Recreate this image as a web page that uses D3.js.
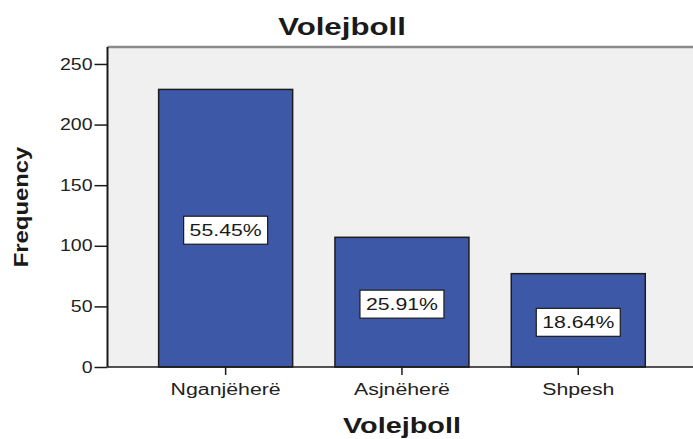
<!DOCTYPE html>
<meta charset="utf-8">
<style>
body { margin: 0; background: #fff; }
text { font-family: "Liberation Sans", Arial, sans-serif; fill: #1a1a1a; }
.bar { fill: #3e58a8; stroke: #1c1c1c; stroke-width: 1.5px; }
.lbox { fill: #fff; stroke: #1c1c1c; stroke-width: 1.2px; }
.axis path { display: none; }
.axis line { stroke: #1a1a1a; stroke-width: 1.5px; }
</style>
<body>
<script src="https://d3js.org/d3.v7.min.js"></script>
<script>

// data
var categories = ["Nganjëherë", "Asjnëherë", "Shpesh"];
var frequencies = [229, 107, 77];
var percentLabels = ["55.45%", "25.91%", "18.64%"];
var yTicks = [0, 50, 100, 150, 200, 250];

var W = 693, H = 439;
var plot = {left: 107.5, right: 696.4, top: 47, bottom: 367};

var svg = d3.select("body").append("svg")
    .attr("width", W)
    .attr("height", H);

var x = d3.scaleBand()
    .domain(categories)
    .range([plot.left, plot.right])
    .paddingInner(0.24)
    .paddingOuter(0.29);

var y = d3.scaleLinear()
    .domain([0, 264])
    .range([plot.bottom, plot.top]);

// stretch text horizontally (the source image is wider than its fonts)
function stretch(sel, k) {
  sel.each(function() {
    var w = this.getComputedTextLength();
    d3.select(this).attr("textLength", w * k).attr("lengthAdjust", "spacingAndGlyphs");
  });
}

// plot background + frame
svg.append("rect")
    .attr("x", plot.left).attr("y", plot.top)
    .attr("width", plot.right - plot.left)
    .attr("height", plot.bottom - plot.top)
    .style("fill", "#f0f0f0");
svg.append("line")
    .attr("x1", plot.left).attr("x2", plot.right)
    .attr("y1", plot.top).attr("y2", plot.top)
    .style("stroke", "#8a8a8a").style("stroke-width", 2.5);

// bars
var rows = categories.map(function(c, i) {
  return {cat: c, freq: frequencies[i], pct: percentLabels[i]};
});

svg.selectAll(".bar")
    .data(rows)
  .enter().append("rect")
    .attr("class", "bar")
    .attr("x", function(d) { return x(d.cat); })
    .attr("y", function(d) { return y(d.freq); })
    .attr("width", x.bandwidth())
    .attr("height", function(d) { return y(0) - y(d.freq); });

// percentage labels in white boxes
var lab = svg.selectAll(".lab")
    .data(rows)
  .enter().append("g")
    .attr("class", "lab")
    .attr("transform", function(d) {
      return "translate(" + (x(d.cat) + x.bandwidth() / 2) + "," + ((y(d.freq) + y(0)) / 2 + 2) + ")";
    });
lab.append("rect")
    .attr("class", "lbox")
    .attr("x", -42).attr("y", -14)
    .attr("width", 84).attr("height", 28);
lab.append("text")
    .attr("text-anchor", "middle")
    .attr("dy", "0.36em")
    .style("font-size", "17px")
    .text(function(d) { return d.pct; })
    .call(stretch, 1.25);

// axes
var gy = svg.append("g")
    .attr("class", "axis")
    .attr("transform", "translate(" + plot.left + ",0)")
    .call(d3.axisLeft(y).tickValues(yTicks).tickSize(13).tickSizeOuter(0).tickPadding(2));
gy.selectAll("text").style("font-size", "16px").style("fill", "#222").call(stretch, 1.22);

var gx = svg.append("g")
    .attr("class", "axis")
    .attr("transform", "translate(0," + plot.bottom + ")")
    .call(d3.axisBottom(x).tickSize(8).tickSizeOuter(0).tickPadding(9));
gx.selectAll("text").style("font-size", "16px").style("fill", "#222").call(stretch, 1.33);

// axis lines
svg.append("line")
    .attr("x1", plot.left).attr("x2", plot.left)
    .attr("y1", plot.top).attr("y2", plot.bottom)
    .style("stroke", "#1a1a1a").style("stroke-width", 2);
svg.append("line")
    .attr("x1", plot.left).attr("x2", plot.right)
    .attr("y1", plot.bottom).attr("y2", plot.bottom)
    .style("stroke", "#1a1a1a").style("stroke-width", 1.5);

// titles
svg.append("text")
    .attr("x", 342).attr("y", 35)
    .attr("text-anchor", "middle")
    .style("font-size", "24px").style("font-weight", "bold")
    .text("Volejboll")
    .call(stretch, 1.3);

svg.append("text")
    .attr("x", (plot.left + plot.right) / 2).attr("y", 433)
    .attr("text-anchor", "middle")
    .style("font-size", "22px").style("font-weight", "bold")
    .text("Volejboll")
    .call(stretch, 1.31);

svg.append("text")
    .attr("transform", "translate(28,207) rotate(-90)")
    .attr("text-anchor", "middle")
    .style("font-size", "20px").style("font-weight", "bold")
    .text("Frequency")
    .call(stretch, 1.19);

</script>
</body>
